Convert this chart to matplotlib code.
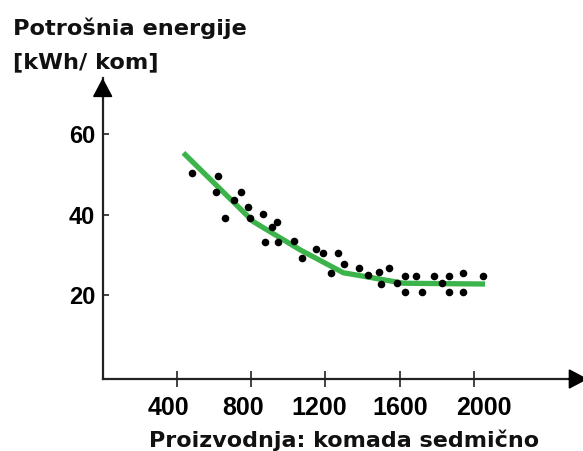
import matplotlib
matplotlib.use("Agg")
import matplotlib.pyplot as plt

# Measured energy use per piece vs weekly output
prod_x = [480, 611, 623, 659, 710, 744, 785, 794, 866, 875, 911, 941, 947,
          1031, 1073, 1150, 1186, 1231, 1267, 1303, 1383, 1432, 1490, 1500,
          1545, 1585, 1630, 1630, 1689, 1723, 1786, 1827, 1867, 1867, 1944,
          1944, 2052]
energy_y = [50.5, 45.7, 49.7, 39.1, 43.8, 45.7, 42.0, 39.1, 40.2, 33.3, 37.0,
            38.3, 33.2, 33.5, 29.2, 31.6, 30.4, 25.5, 30.5, 27.8, 26.7, 25.0,
            25.7, 22.8, 26.9, 23.0, 24.8, 20.9, 24.8, 20.9, 24.8, 23.0, 24.8,
            20.9, 25.5, 20.9, 24.8]

# Trend curve
trend_x = [435, 812, 1064, 1297, 1423, 1621, 2061]
trend_y = [55.4, 38.3, 31.3, 25.6, 24.6, 23.0, 22.8]

x_ticks = [400, 800, 1200, 1600, 2000]
x_tick_labels = ["400", "800", "1200", "1600", "2000"]
x_label_pos = [352, 756, 1166, 1605, 2053]
y_ticks = [20, 40, 60]
y_tick_labels = ["20", "40", "60"]

W, H = 583, 451
fig = plt.figure(figsize=(W / 100, H / 100), dpi=100)
left = 102.7 / W
bottom = (H - 379) / H
ax = fig.add_axes([left, bottom, (583 - 102.7) / W, (379 - 78) / H])
ax.set_xlim(0, 2589)
ax.set_ylim(-0.8, 74.0)

ax.plot(trend_x, trend_y, color="#3cb44b", lw=3.8, solid_capstyle="butt",
        solid_joinstyle="round", zorder=2)
ax.scatter(prod_x, energy_y, s=30, color="black", zorder=3, linewidths=0)

for s in ("top", "right"):
    ax.spines[s].set_visible(False)
for s in ("left", "bottom"):
    ax.spines[s].set_linewidth(1.6)
    ax.spines[s].set_color("#222222")

tick_font = dict(family=["Liberation Sans", "DejaVu Sans"], weight="bold")

ax.set_xticks(x_ticks)
ax.set_xticklabels([])
ax.tick_params(axis="x", which="major", direction="inout", length=11.5,
               width=1.2, color="#222222")
ax.set_xticks(x_label_pos, minor=True)
ax.set_xticklabels(x_tick_labels, minor=True, fontsize=18, **tick_font)
ax.tick_params(axis="x", which="minor", length=0, pad=12)

ax.set_yticks(y_ticks)
ax.set_yticklabels(y_tick_labels, fontsize=17, **tick_font)
ax.tick_params(axis="y", direction="in", length=4.5, width=1.2,
               color="#222222", pad=5.5)

# Arrow heads on both axes
arrow = dict(arrowstyle="-|>,head_length=0.85,head_width=0.45",
             mutation_scale=14, color="black", lw=1.2,
             shrinkA=0, shrinkB=0)
ax.annotate("", xy=(0, 1), xytext=(0, 0.96), xycoords="axes fraction",
            textcoords="axes fraction", arrowprops=arrow, annotation_clip=False)
ax.annotate("", xy=(1.01, 0), xytext=(0.97, 0), xycoords="axes fraction",
            textcoords="axes fraction", arrowprops=arrow, annotation_clip=False)

label_font = dict(family="DejaVu Sans", weight="bold", color="#111111")
fig.text(13.3 / W, 1 - 35 / H, "Potrošnia energije", fontsize=16.2,
         va="baseline", ha="left", **label_font)
fig.text(13.3 / W, 1 - 68.3 / H, "[kWh/ kom]", fontsize=16.2,
         va="baseline", ha="left", **label_font)
fig.text(344.5 / W, 1 - 446.7 / H, "Proizvodnja: komada sedmično",
         fontsize=16, va="baseline", ha="center", **label_font)

fig.savefig("out.png", dpi=100)
